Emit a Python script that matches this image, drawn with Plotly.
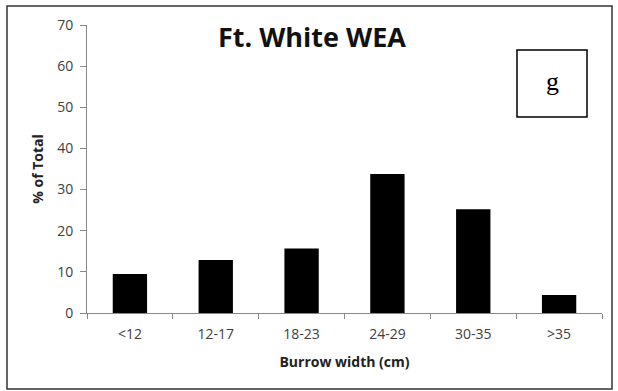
import plotly.graph_objects as go

categories = ["<12", "12-17", "18-23", "24-29", "30-35", ">35"]
values = [9.5, 12.9, 15.7, 33.8, 25.2, 4.4]
y_ticks = [0, 10, 20, 30, 40, 50, 60, 70]

W, H = 618, 391
ml, mr, mt, mb = 87, 16, 25, 78
pw, ph = W - ml - mr, H - mt - mb

def px(x):
    return (x - ml) / pw

def py(y):
    return (H - mb - y) / ph

fig = go.Figure(go.Bar(x=categories, y=values, marker=dict(color="black", line=dict(width=0))))

fig.update_layout(
    width=W, height=H,
    margin=dict(l=ml, r=mr, t=mt, b=mb, autoexpand=False),
    paper_bgcolor="white", plot_bgcolor="white",
    bargap=0.6,
    showlegend=False,
    font=dict(family="Open Sans", color="#404040"),
    xaxis=dict(
        type="category", tickson="boundaries", ticks="outside", ticklen=5,
        tickcolor="#888", showline=True, linecolor="#888", linewidth=1,
        showgrid=False, tickfont=dict(size=14, color="#404040"), automargin=False,
        ticklabelstandoff=8,
        title=dict(text="<b>Burrow width (cm)</b>", font=dict(size=14, color="#222"), standoff=15),
    ),
    yaxis=dict(
        range=[0, 70], tickvals=y_ticks, ticks="outside", ticklen=6,
        tickcolor="#888", showline=True, linecolor="#888", linewidth=1,
        showgrid=False, zeroline=False, tickfont=dict(size=14, color="#404040"), automargin=False,
        ticklabelstandoff=4,
        title=dict(text="<b>% of Total</b>", font=dict(size=14, color="#222"), standoff=10),
    ),
    shapes=[
        dict(type="rect", xref="paper", yref="paper",
             x0=px(7), x1=px(612), y0=py(389), y1=py(6),
             line=dict(color="#333", width=1.5), fillcolor="rgba(0,0,0,0)"),
        dict(type="rect", xref="paper", yref="paper",
             x0=px(517), x1=px(587), y0=py(117), y1=py(50),
             line=dict(color="black", width=1.5), fillcolor="white"),
    ],
    annotations=[
        dict(text="<b>Ft. White WEA</b>", xref="paper", yref="paper",
             x=px(312), y=py(37), showarrow=False, xanchor="center", yanchor="middle",
             font=dict(size=27, color="#111", family="Open Sans")),
        dict(text="g", xref="paper", yref="paper",
             x=px(552), y=py(82), showarrow=False, xanchor="center", yanchor="middle",
             font=dict(size=26, color="black", family="Liberation Serif")),
    ],
)

fig.write_html("out.html", config={"displayModeBar": False},
               post_script="document.body.style.margin='0';")
